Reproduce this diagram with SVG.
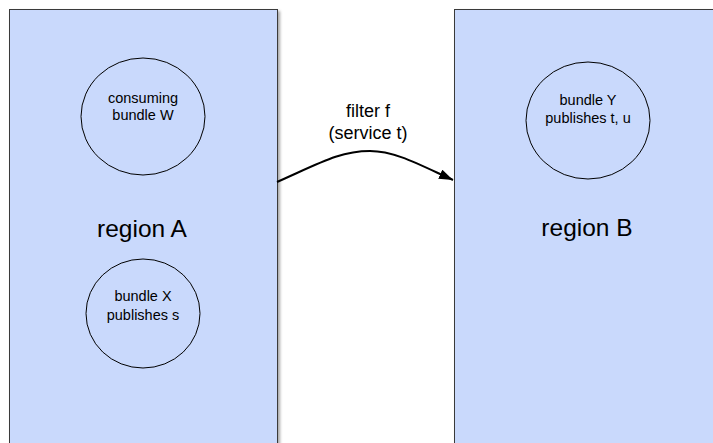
<svg xmlns="http://www.w3.org/2000/svg" width="713" height="443" viewBox="0 0 713 443">
  <style>
    .region { fill: #c9d9fc; stroke: #3a3a3a; stroke-width: 1; }
    .shadow { fill: #000; opacity: 0.35; filter: url(#blur); }
    .bundle { fill: none; stroke: #000; stroke-width: 1; }
    .label { font-family: "Liberation Sans", Arial, sans-serif; fill: #000; text-anchor: middle; }
    .small { font-size: 14.5px; }
    .big { font-size: 24.5px; }
    .mid { font-size: 18px; }
    .edge { fill: none; stroke: #000; stroke-width: 2; }
  </style>
  <defs>
    <filter id="blur" x="-10%" y="-10%" width="120%" height="120%">
      <feGaussianBlur stdDeviation="1.5"/>
    </filter>
    <marker id="arrow" viewBox="0 0 14 10" refX="14" refY="5" markerWidth="7" markerHeight="5" orient="auto" markerUnits="strokeWidth">
      <path d="M0,0 L14,5 L0,10 Z" fill="#000"/>
    </marker>
  </defs>
  <rect width="713" height="443" fill="#fff"/>

  <g id="regionA">
    <rect class="shadow" x="11" y="11" width="269" height="445"/>
    <rect class="region" x="9.5" y="9.5" width="268" height="445"/>
    <text class="label big" x="142" y="237">region A</text>
  </g>

  <g id="regionB">
    <rect class="shadow" x="456" y="11" width="270" height="445"/>
    <rect class="region" x="454.5" y="9.5" width="270" height="445"/>
    <text class="label big" x="587" y="236">region B</text>
  </g>

  <g id="bundleW">
    <ellipse class="bundle" cx="143" cy="116.5" rx="62" ry="58.5"/>
    <text class="label small" x="143" y="103">consuming</text>
    <text class="label small" x="143" y="120">bundle W</text>
  </g>

  <g id="bundleX">
    <ellipse class="bundle" cx="143" cy="313.5" rx="57" ry="54.5"/>
    <text class="label small" x="143" y="301">bundle X</text>
    <text class="label small" x="143" y="320">publishes s</text>
  </g>

  <g id="bundleY">
    <ellipse class="bundle" cx="588" cy="120.5" rx="62" ry="58.5"/>
    <text class="label small" x="588" y="105">bundle Y</text>
    <text class="label small" x="588" y="123">publishes t, u</text>
  </g>

  <g id="connectors">
    <path class="edge" d="M277,182 C320,163 340,151 370,151 C395,151 420,165 453,180" marker-end="url(#arrow)"/>
    <text class="label mid" x="368" y="117">filter f</text>
    <text class="label mid" x="368" y="139">(service t)</text>
  </g>
</svg>
